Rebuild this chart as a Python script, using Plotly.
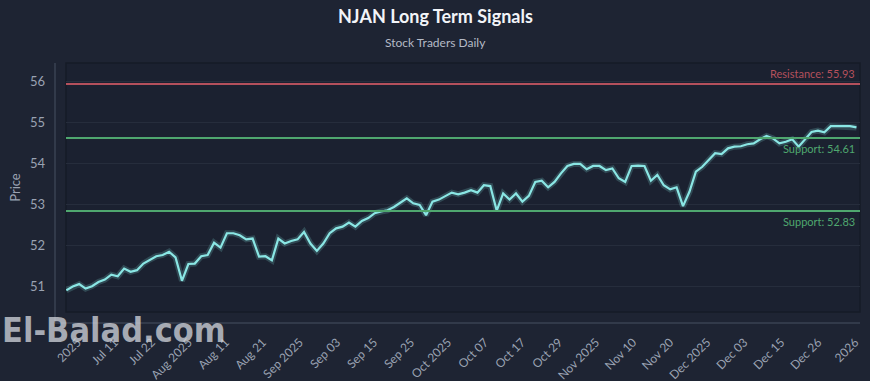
import plotly.graph_objects as go

# ---------------- data ----------------
PRICES = [
    50.90, 50.99, 51.05, 50.94, 51.00, 51.10, 51.16, 51.28, 51.24, 51.43,
    51.35, 51.39, 51.55, 51.65, 51.73, 51.76, 51.84, 51.70, 51.13, 51.54,
    51.55, 51.73, 51.76, 52.06, 51.94, 52.29, 52.29, 52.24, 52.14, 52.16,
    51.72, 51.73, 51.63, 52.16, 52.04, 52.10, 52.14, 52.32, 52.04, 51.86,
    52.04, 52.29, 52.41, 52.45, 52.55, 52.45, 52.59, 52.66, 52.78, 52.82,
    52.85, 52.93, 53.03, 53.14, 53.02, 52.98, 52.73, 53.06, 53.11, 53.20,
    53.28, 53.24, 53.28, 53.34, 53.28, 53.46, 53.44, 52.84, 53.26, 53.11,
    53.26, 53.06, 53.20, 53.54, 53.57, 53.41, 53.54, 53.75, 53.93, 53.98,
    53.98, 53.85, 53.93, 53.93, 53.83, 53.87, 53.63, 53.54, 53.93, 53.94,
    53.93, 53.57, 53.71, 53.46, 53.36, 53.41, 52.95, 53.30, 53.79, 53.91,
    54.07, 54.24, 54.22, 54.36, 54.40, 54.41, 54.46, 54.48, 54.58, 54.66,
    54.60, 54.48, 54.52, 54.58, 54.40, 54.58, 54.76, 54.79, 54.75, 54.90,
    54.90, 54.90, 54.90, 54.87,
]
DAY_INDEX = list(range(len(PRICES)))

TICK_LABELS = [
    "2025", "Jul 11", "Jul 22", "Aug 2025", "Aug 11", "Aug 21", "Sep 2025",
    "Sep 03", "Sep 15", "Sep 25", "Oct 2025", "Oct 07", "Oct 17", "Oct 29",
    "Nov 2025", "Nov 10", "Nov 20", "Dec 2025", "Dec 03", "Dec 15", "Dec 26",
    "2026",
]

RESISTANCE = 55.93
SUPPORTS = [54.61, 52.83]
Y_TICKS = [51, 52, 53, 54, 55, 56]

TITLE = "NJAN Long Term Signals"
SUBTITLE = "Stock Traders Daily"
WATERMARK = "El-Balad.com"

# ---------------- styles ----------------
PAPER = "#1e2433"
PLOT = "#1b2130"
TXT = "#9aa2b2"
LINE = "#8ae6e4"
RED = "#b4505c"
GREEN = "#4fa76f"
FONT = "Lato, Open Sans, sans-serif"

W, H = 870, 381
ML, MR, MT, MB = 66, 10, 63, 69
PW = W - ML - MR
PH = H - MT - MB

fig = go.Figure()

# glow
fig.add_trace(go.Scatter(x=DAY_INDEX, y=PRICES, mode="lines",
                         line=dict(color="rgba(134,228,226,0.2)", width=6),
                         hoverinfo="skip", showlegend=False))
fig.add_trace(go.Scatter(x=DAY_INDEX, y=PRICES, mode="lines",
                         line=dict(color=LINE, width=2.2),
                         name="Price", showlegend=False))

# resistance / support lines
fig.add_hline(y=RESISTANCE, line=dict(color=RED, width=2))
for s in SUPPORTS:
    fig.add_hline(y=s, line=dict(color=GREEN, width=2))

fig.add_annotation(xref="paper", yref="y", x=0.996, y=RESISTANCE,
                   text=f"Resistance: {RESISTANCE:.2f}", showarrow=False,
                   xanchor="right", yanchor="bottom", yshift=2,
                   font=dict(family=FONT, size=11, color=RED))
for s in SUPPORTS:
    fig.add_annotation(xref="paper", yref="y", x=0.996, y=s,
                       text=f"Support: {s:.2f}", showarrow=False,
                       xanchor="right", yanchor="top", yshift=-2,
                       font=dict(family=FONT, size=11, color=GREEN))

# outer axis frame lines (offset from the plot box)
ax_x = (55 - ML) / PW
ax_y = -(323 - (MT + PH)) / PH
fig.add_shape(type="line", xref="paper", yref="paper", x0=ax_x, x1=ax_x,
              y0=ax_y, y1=1.0, line=dict(color="#3a4253", width=1.5))
fig.add_shape(type="line", xref="paper", yref="paper", x0=ax_x, x1=1.0,
              y0=ax_y, y1=ax_y, line=dict(color="#3a4253", width=1.5))
# plot box border
fig.add_shape(type="rect", xref="paper", yref="paper", x0=0, x1=1, y0=0, y1=1,
              line=dict(color="#161b27", width=1.5), layer="below")

# titles
fig.add_annotation(xref="paper", yref="paper", x=(435 - ML) / PW, y=1 + (MT - 16) / PH,
                   text=f"<b>{TITLE}</b>", showarrow=False, xanchor="center",
                   yanchor="middle", font=dict(family=FONT, size=18, color="#f2f4f8"))
fig.add_annotation(xref="paper", yref="paper", x=(435 - ML) / PW, y=1 + (MT - 42) / PH,
                   text=SUBTITLE, showarrow=False, xanchor="center",
                   yanchor="middle", font=dict(family=FONT, size=12, color="#b4bac6"))

# watermark
fig.add_annotation(xref="paper", yref="paper", x=(0 - ML) / PW, y=-(330 - (MT + PH)) / PH,
                   text=f"<b>{WATERMARK}</b>", showarrow=False, xanchor="left",
                   yanchor="middle",
                   font=dict(family="DejaVu Sans Condensed, sans-serif",
                             size=34, color="rgba(205,208,215,0.78)"))

n = len(PRICES)
tick_start = 1.76
tick_step = (n - 1 - 0.2 - tick_start) / (len(TICK_LABELS) - 1)
tickvals = [tick_start + k * tick_step for k in range(len(TICK_LABELS))]

fig.update_layout(
    width=W, height=H,
    margin=dict(l=ML, r=MR, t=MT, b=MB),
    paper_bgcolor=PAPER, plot_bgcolor=PLOT,
    font=dict(family=FONT, color=TXT),
    xaxis=dict(range=[-0.05, n - 1 + 0.55], tickvals=tickvals, ticktext=TICK_LABELS,
               tickangle=-45, showgrid=False, zeroline=False, showline=False,
               tickfont=dict(family=FONT, size=12, color=TXT),
               ticks="", ticklabelstandoff=20, automargin=False),
    yaxis=dict(range=[50.37, 56.44], tickvals=Y_TICKS, showgrid=True,
               gridcolor="#262d3c", gridwidth=1, zeroline=False, showline=False,
               tickfont=dict(family=FONT, size=13, color=TXT),
               ticks="", ticklabelstandoff=20, automargin=False,
               title=dict(text="Price", font=dict(family=FONT, size=13, color=TXT),
                          standoff=6)),
)

fig.write_html("out.html")
